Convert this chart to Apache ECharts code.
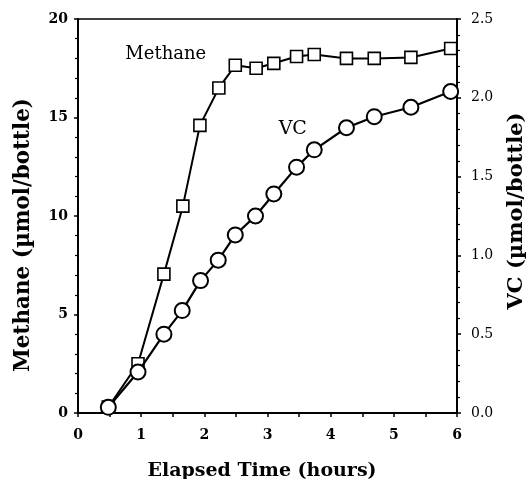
<!DOCTYPE html>
<html><head><meta charset="utf-8">
<script src="https://cdn.jsdelivr.net/npm/echarts@6/dist/echarts.min.js"></script>
<style>html,body{margin:0;padding:0;background:#fff}#c{width:526px;height:479px}</style>
</head><body><div id="c"></div>
<script>
var methaneTime = [0.48, 0.95, 1.36, 1.66, 1.93, 2.23, 2.49, 2.82, 3.10, 3.46, 3.74, 4.25, 4.69, 5.27, 5.90];
var methaneVals = [0.3, 2.5, 7.05, 10.5, 14.6, 16.5, 17.65, 17.5, 17.75, 18.1, 18.2, 18.0, 18.0, 18.05, 18.5];
var vcTime = [0.48, 0.95, 1.36, 1.65, 1.94, 2.22, 2.49, 2.81, 3.10, 3.46, 3.74, 4.25, 4.69, 5.27, 5.90];
var vcVals = [0.036, 0.26, 0.50, 0.65, 0.84, 0.97, 1.13, 1.25, 1.39, 1.56, 1.67, 1.81, 1.88, 1.94, 2.04];
var xTicks = [0, 1, 2, 3, 4, 5, 6];
var leftTicks = [0, 5, 10, 15, 20];
var rightTicks = ['0.0', '0.5', '1.0', '1.5', '2.0', '2.5'];

var FONT = 'DejaVu Serif';
var chart = echarts.init(document.getElementById('c'));
function pair(xs, ys){ return xs.map(function(x,i){ return [x, ys[i]]; }); }
var axisLineStyle = {color:'#000', width:2};
chart.setOption({
  animation:false,
  backgroundColor:'#fff',
  grid:{left:78, right:69, top:19, bottom:66, show:true, borderColor:'#000', borderWidth:1.5},
  xAxis:{type:'value', min:0, max:6, interval:1,
    axisLine:{lineStyle:axisLineStyle}, axisTick:{length:4, lineStyle:{color:'#000', width:1.5}},
    minorTick:{show:true, splitNumber:2, length:4, lineStyle:{color:'#000', width:1.5}},
    axisLabel:{margin:15, fontFamily:FONT, fontWeight:'bold', fontSize:14, color:'#000',
      formatter:function(v){ return xTicks.indexOf(v) >= 0 ? String(v) : ''; }},
    splitLine:{show:false}},
  yAxis:[
    {type:'value', min:0, max:20, interval:5, position:'left',
      axisLine:{show:true, lineStyle:axisLineStyle}, axisTick:{length:4, lineStyle:{color:'#000', width:1.5}},
      minorTick:{show:true, splitNumber:5, length:3, lineStyle:{color:'#000', width:1.2}},
      axisLabel:{margin:10, fontFamily:FONT, fontWeight:'bold', fontSize:14, color:'#000',
        formatter:function(v){ return leftTicks.indexOf(v) >= 0 ? String(v) : ''; }},
      splitLine:{show:false}},
    {type:'value', min:0, max:2.5, interval:0.5, position:'right',
      axisLine:{show:true, lineStyle:axisLineStyle}, axisTick:{length:4, lineStyle:{color:'#000', width:1.5}},
      minorTick:{show:true, splitNumber:5, length:3, lineStyle:{color:'#000', width:1.2}},
      axisLabel:{margin:14, fontFamily:FONT, fontSize:14, color:'#000',
        formatter:function(v){ return rightTicks[Math.round(v/0.5)]; }},
      splitLine:{show:false}}
  ],
  series:[
    {name:'Methane', type:'line', yAxisIndex:0, data:pair(methaneTime, methaneVals),
      symbol:'rect', symbolSize:12, lineStyle:{color:'#000', width:2},
      itemStyle:{color:'#fff', borderColor:'#000', borderWidth:1.6}, z:3},
    {name:'VC', type:'line', yAxisIndex:1, data:pair(vcTime, vcVals),
      symbol:'circle', symbolSize:15, lineStyle:{color:'#000', width:2.2},
      itemStyle:{color:'#fff', borderColor:'#000', borderWidth:2}, z:4}
  ]
});
var p1 = chart.convertToPixel({gridIndex:0}, [1.39, 18.2]);
var p2 = chart.convertToPixel({gridIndex:0}, [3.4, 14.4]);
var nameStyle = {fontFamily:FONT, fontWeight:'bold', fontSize:21, fill:'#000', align:'center', verticalAlign:'middle'};
chart.setOption({graphic:[
  {type:'text', x:p1[0], y:p1[1], style:{text:'Methane', fontFamily:FONT, fontSize:18, fill:'#000', align:'center', verticalAlign:'middle'}},
  {type:'text', x:p2[0], y:p2[1], style:{text:'VC', fontFamily:FONT, fontSize:19, fill:'#000', align:'center', verticalAlign:'middle'}},
  {type:'text', x:262, y:471, style:Object.assign({}, nameStyle, {text:'Elapsed Time (hours)', fontSize:19})},
  {type:'text', x:23, y:235, rotation:Math.PI/2, style:Object.assign({}, nameStyle, {text:'Methane (µmol/bottle)', fontSize:21.5})},
  {type:'text', x:517, y:211, rotation:Math.PI/2, style:Object.assign({}, nameStyle, {text:'VC (µmol/bottle)'})}
]});
</script></body></html>
